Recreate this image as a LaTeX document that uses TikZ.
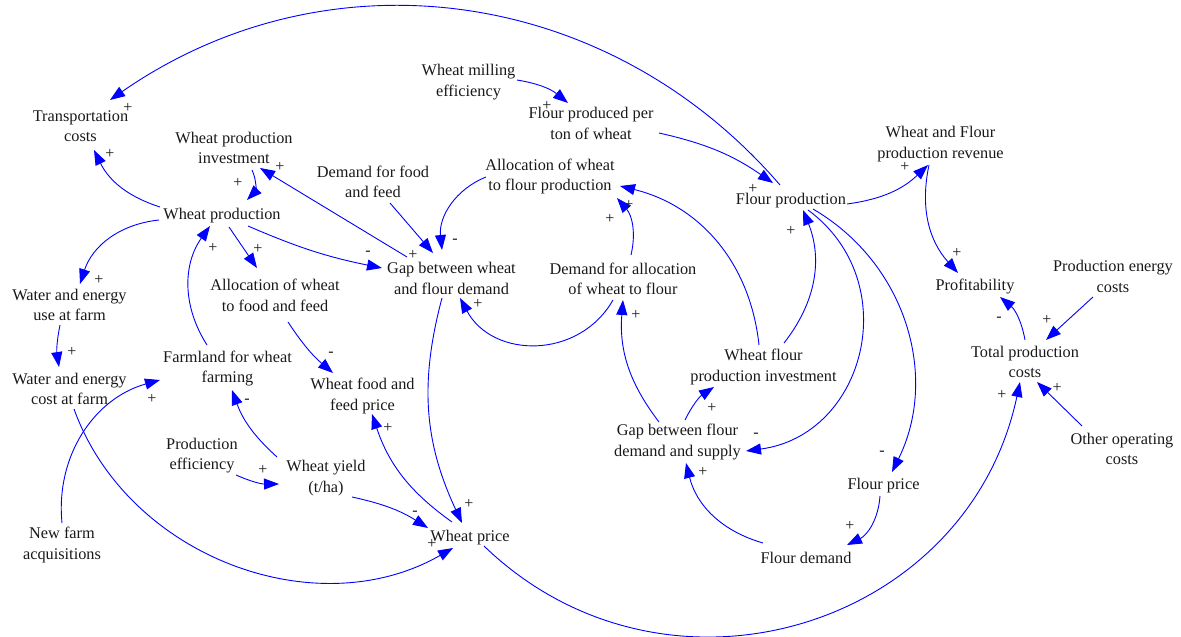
\documentclass[tikz,border=0pt]{standalone}
\usepackage{fontspec}
\setmainfont{Liberation Serif}
\usetikzlibrary{arrows.meta,calc}
\begin{document}
\begin{tikzpicture}[x=1pt,y=1pt,
  var/.style={inner sep=0pt,align=center,text=black!90,font=\fontsize{16.3}{20.5}\selectfont},
  one/.style={var,text height=12.6pt,text depth=0pt},
  pol/.style={inner sep=0pt,text=black!90,font=\fontsize{16}{16}\selectfont},
  arr/.style={draw=blue,line width=0.9pt,-{Triangle[length=15pt,width=11pt]},fill=none}]
\useasboundingbox (0,0) rectangle (1181,-637);
% variables
\node[var] (tc)   at (80.5,-126)  {Transportation\\costs};
\node[var] (wpi)  at (234,-148)   {Wheat production\\investment};
\node[var] (dff)  at (373,-182)   {Demand for food\\and feed};
\node[one] (wp)   at (222,-213)   {Wheat production};
\node[var] (wu)   at (69.5,-305)  {Water and energy\\use at farm};
\node[var] (wc)   at (69.5,-389)  {Water and energy\\cost at farm};
\node[var] (fl)   at (227.5,-368.5) {Farmland for wheat\\farming};
\node[var] (aff)  at (275,-295.5) {Allocation of wheat\\to food and feed};
\node[var] (gw)   at (451.5,-278.5) {Gap between wheat\\and flour demand};
\node[var] (wfp)  at (362.5,-396) {Wheat food and\\feed price};
\node[var] (pe)   at (202,-455.5) {Production\\efficiency};
\node[var] (wy)   at (326,-478)   {Wheat yield\\(t/ha)};
\node[var] (nfa)  at (62,-545)    {New farm\\acquisitions};
\node[one] (wpr)  at (470,-535)   {Wheat price};
\node[var] (wme)  at (468.5,-82)  {Wheat milling\\efficiency};
\node[var] (fpt)  at (591,-123.5) {Flour produced per\\ton of wheat};
\node[var] (afp)  at (550,-176.5) {Allocation of wheat\\to flour production};
\node[var] (daf)  at (623,-279)   {Demand for allocation\\of wheat to flour};
\node[one] (fp)   at (791,-198)   {Flour production};
\node[var] (wfi)  at (763.5,-367) {Wheat flour\\production investment};
\node[var] (gf)   at (677.5,-442) {Gap between flour\\demand and supply};
\node[one] (fpr)  at (883.5,-483) {Flour price};
\node[one] (fd)   at (806,-557)   {Flour demand};
\node[var] (rev)  at (940.5,-144) {Wheat and Flour\\production revenue};
\node[one] (prof) at (975,-284)   {Profitability};
\node[var] (pec)  at (1113,-276.5) {Production energy\\costs};
\node[var] (tpc)  at (1025,-362)  {Total production\\costs};
\node[var] (ooc)  at (1122,-449)  {Other operating\\costs};
% links
\draw[arr] ($(fp)+(-11,13)$) to[bend right=42] ($(tc)+(29.5,26)$);
\draw[arr] ($(wp)+(-62,6)$) to[bend left=23] ($(tc)+(13.5,-24)$);
\draw[arr] ($(wpi)+(18,-22)$) to[bend left=35] ($(wp)+(25,13)$);
\draw[arr] ($(gw)+(-44.5,21.5)$) -- ($(wpi)+(26,-20)$);
\draw[arr] ($(wp)+(26,-13)$) to[bend right=6] ($(gw)+(-69.5,10.5)$);
\draw[arr] ($(wp)+(7,-14)$) -- ($(aff)+(-18,27.5)$);
\draw[arr] ($(fl)+(-20.5,23.5)$) to[bend left=34] ($(wp)+(-12,-13)$);
\draw[arr] ($(wp)+(-63,-7)$) to[bend right=33] ($(wu)+(10.5,21)$);
\draw[arr] ($(wu)+(-9.5,-20)$) to[bend right=10] ($(wc)+(-10.5,22)$);
\draw[arr] ($(wc)+(4.5,-20)$) to[bend right=50] ($(wpr)+(-17,-13)$);
\draw[arr] ($(nfa)+(0,22)$) to[bend left=40] ($(fl)+(-67.5,-11.5)$);
\draw[arr] ($(wy)+(-49,21)$) to[bend left=14] ($(fl)+(4.5,-21.5)$);
\draw[arr] ($(pe)+(34,-19.5)$) to[bend right=12] ($(wy)+(-47,-6)$);
\draw[arr] ($(wy)+(26,-19)$) to[bend left=10] ($(wpr)+(-42,7)$);
\draw[arr] ($(wpr)+(-18,13)$) to[bend left=18] ($(wfp)+(9.5,-18)$);
\draw[arr] ($(aff)+(13,-26.5)$) to[bend right=8] ($(wfp)+(-29.5,23)$);
\draw[arr] ($(gw)+(-9.5,-19.5)$) to[bend right=20] ($(wpr)+(-8,12)$);
\draw[arr] ($(wpr)+(14,-11)$) to[bend right=61,looseness=1.15] ($(tpc)+(-5,-20)$);
\draw[arr] ($(wme)+(48.5,2)$) to[bend left=15] ($(fpt)+(-23,20.5)$);
\draw[arr] ($(fpt)+(68,-9.5)$) to[bend left=11] ($(fp)+(-18,15)$);
\draw[arr] ($(afp)+(-64,-0.5)$) to[bend right=37] ($(gw)+(-9.5,28.5)$);
\draw[arr] ($(dff)+(17,-21)$) -- ($(gw)+(-18.5,25.5)$);
\draw[arr] ($(daf)+(-10,-21)$) to[bend left=61,looseness=1.15] ($(gw)+(8.5,-19.5)$);
\draw[arr] ($(daf)+(8,24)$) to[bend right=27] ($(afp)+(67,-21.5)$);
\draw[arr] ($(wfi)+(-4.5,22)$) to[bend right=35] ($(afp)+(70,-9.5)$);
\draw[arr] ($(wfi)+(20.5,24)$) to[bend right=30] ($(fp)+(12,-12)$);
\draw[arr] ($(fp)+(17,-12)$) to[bend left=68,looseness=1.24] ($(gf)+(68.5,-9)$);
\draw[arr] ($(fp)+(22,-11)$) to[bend left=43] ($(fpr)+(8.5,11)$);
\draw[arr] ($(fp)+(56,-6)$) to[bend right=18] ($(rev)+(-12.5,-21)$);
\draw[arr] ($(rev)+(-11.5,-21)$) to[bend right=27] ($(prof)+(-17,11)$);
\draw[arr] ($(tpc)+(0,22)$) to[bend right=20] ($(prof)+(25,-13)$);
\draw[arr] ($(pec)+(-20,-20.5)$) -- ($(tpc)+(21,22)$);
\draw[arr] ($(ooc)+(-40,23)$) -- ($(tpc)+(12,-20)$);
\draw[arr] ($(fpr)+(-3.5,-13)$) to[bend left=30] ($(fd)+(41,12)$);
\draw[arr] ($(fd)+(-43,14)$) to[bend left=30] ($(gf)+(8.5,-21)$);
\draw[arr] ($(gf)+(-18.5,20)$) to[bend left=21] ($(daf)+(0,-21)$);
\draw[arr] ($(gf)+(7.5,22)$) to[bend left=15] ($(wfi)+(-49.5,-20)$);
% polarities
\node[pol] (p1)  at (128,-108) {+};
\node[pol] (p2)  at (110,-154) {+};
\node[pol] (p3)  at (238,-183) {+};
\node[pol] (p4)  at (280,-167) {+};
\node[pol] (p5)  at (368,-253) {-};
\node[pol] (p6)  at (413,-255) {+};
\node[pol] (p7)  at (455,-241) {-};
\node[pol] (p8)  at (478,-304) {+};
\node[pol] (p9)  at (258,-249) {+};
\node[pol] (p10) at (213,-248) {+};
\node[pol] (p11) at (99,-280)  {+};
\node[pol] (p12) at (72,-352)  {+};
\node[pol] (p13) at (152,-399) {+};
\node[pol] (p14) at (247,-401) {-};
\node[pol] (p15) at (263,-470) {+};
\node[pol] (p16) at (415,-513) {-};
\node[pol] (p17) at (432,-544) {+};
\node[pol] (p18) at (469,-504) {+};
\node[pol] (p19) at (388,-428) {+};
\node[pol] (p20) at (331,-354) {-};
\node[pol] (p21) at (1002,-395) {+};
\node[pol] (p22) at (547,-106) {+};
\node[pol] (p23) at (753,-189) {+};
\node[pol] (p24) at (629,-205) {+};
\node[pol] (p25) at (610,-219) {+};
\node[pol] (p26) at (791,-231) {+};
\node[pol] (p27) at (756,-435) {-};
\node[pol] (p28) at (882,-453) {-};
\node[pol] (p29) at (850,-526) {+};
\node[pol] (p30) at (703,-472) {+};
\node[pol] (p31) at (636,-315) {+};
\node[pol] (p32) at (712,-408) {+};
\node[pol] (p33) at (905,-167) {+};
\node[pol] (p34) at (957,-253) {+};
\node[pol] (p35) at (999,-319) {-};
\node[pol] (p36) at (1047,-320) {+};
\node[pol] (p37) at (1057,-388) {+};
\end{tikzpicture}
\end{document}
